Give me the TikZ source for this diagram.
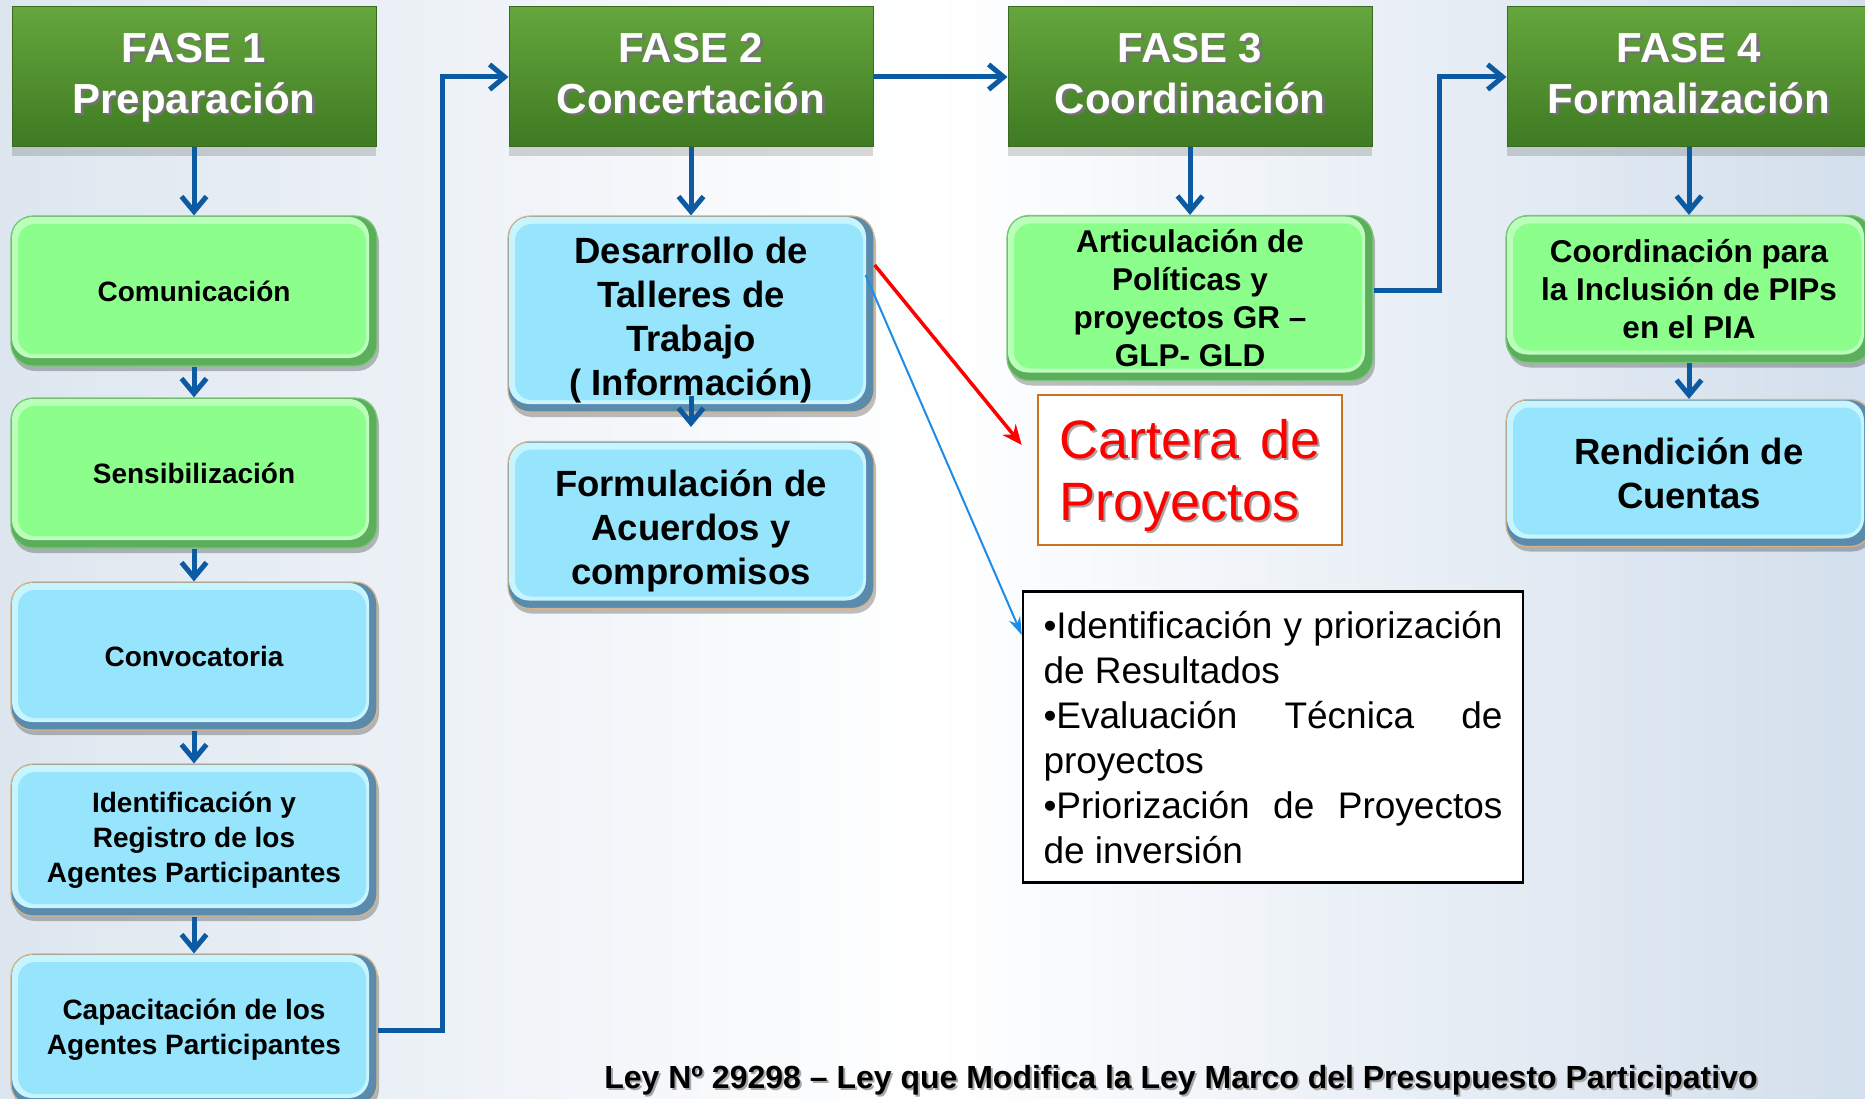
\documentclass[tikz,border=0pt]{standalone}
\usepackage{fontspec}
\setmainfont{Liberation Sans}
\usetikzlibrary{arrows.meta,shadows}
\definecolor{bgleft}{HTML}{DDE6EF}
\definecolor{bgright}{HTML}{D3DFEC}
\definecolor{hdrtop}{HTML}{65A63D}
\definecolor{hdrbot}{HTML}{3E7A22}
\definecolor{hdrdraw}{HTML}{3A6A20}
\definecolor{gmain}{HTML}{8CFE8C}
\definecolor{glight}{HTML}{BAFFBA}
\definecolor{gdark}{HTML}{5CAE5C}
\definecolor{gborder}{HTML}{78C878}
\definecolor{bmain}{HTML}{97E5FC}
\definecolor{blight}{HTML}{C6F4FF}
\definecolor{bdark}{HTML}{5A8BAC}
\definecolor{bborder}{HTML}{D7B487}
\definecolor{conncol}{HTML}{0B5AA2}
\definecolor{thinblue}{HTML}{1E8BE6}
\definecolor{cartorange}{HTML}{C8741E}
\newcommand\shadtxt[1]{\leavevmode\rlap{\kern2.5pt\raisebox{-2.5pt}{\color{black!55}\begin{tabular}{@{}c@{}}#1\end{tabular}}}\begin{tabular}{@{}c@{}}#1\end{tabular}}
\newcommand\shadl[1]{\leavevmode\rlap{\kern2pt\raisebox{-2pt}{\color{black!35}\begin{tabular}{@{}l@{}}#1\end{tabular}}}\begin{tabular}{@{}l@{}}#1\end{tabular}}
\newcommand\shadone[1]{\leavevmode\rlap{\kern2pt\raisebox{-2pt}{\color{black!35}#1}}#1}
\tikzset{
  hdr/.style={rectangle, top color=hdrtop, bottom color=hdrbot, draw=hdrdraw, line width=1pt,
    minimum width=364pt, minimum height=140pt, inner sep=0pt, align=center,
    font=\fontsize{42}{51}\selectfont\bfseries, text=white, text height=58pt, text depth=44pt,
    drop shadow={shadow xshift=0pt, shadow yshift=-9pt, opacity=0.15, fill=black}},
  bevelbase/.style={rounded corners=22pt, line width=1.2pt, minimum width=366pt, inner sep=0pt,
    align=center, text=black,
    drop shadow={shadow xshift=2pt, shadow yshift=-5pt, opacity=0.25, fill=black}},
  gbox/.style={bevelbase, fill=gdark, draw=gborder,
    path picture={
      \fill[glight, rounded corners=20pt] ([xshift=1pt,yshift=-1pt]path picture bounding box.north west) rectangle ([xshift=-8pt,yshift=8pt]path picture bounding box.south east);
      \fill[gmain, rounded corners=17pt] ([xshift=7pt,yshift=-8pt]path picture bounding box.north west) rectangle ([xshift=-11pt,yshift=12pt]path picture bounding box.south east);
    }},
  bbox/.style={bevelbase, fill=bdark, draw=bborder,
    path picture={
      \fill[blight, rounded corners=20pt] ([xshift=1pt,yshift=-1pt]path picture bounding box.north west) rectangle ([xshift=-8pt,yshift=8pt]path picture bounding box.south east);
      \fill[bmain, rounded corners=17pt] ([xshift=7pt,yshift=-8pt]path picture bounding box.north west) rectangle ([xshift=-11pt,yshift=12pt]path picture bounding box.south east);
    }},
  cfont/.style={font=\fontsize{28}{35}\selectfont\bfseries},
  bigfont/.style={font=\fontsize{36.5}{44}\selectfont\bfseries},
  midfont/.style={font=\fontsize{31.5}{38}\selectfont\bfseries},
  conn/.style={draw=conncol, line width=5pt, -{Straight Barb[length=15pt,width=25pt]}},
  redarrow/.style={draw=red, line width=3.5pt, -{Stealth[length=20pt,width=17pt]}},
  thinarrow/.style={draw=thinblue, line width=2pt, -{Stealth[length=18pt,width=12pt]}}
}
\begin{document}
\begin{tikzpicture}[x=1pt,y=-1pt]
\useasboundingbox (0,0) rectangle (1865,1099);
\shade[left color=bgleft, right color=bgright, middle color=white] (0,0) rectangle (1865,1099);

% headers
\node[hdr] (f1) at (194,77) {\shadtxt{FASE 1\\Preparación}};
\node[hdr] (f2) at (691,77) {\shadtxt{FASE 2\\Concertación}};
\node[hdr] (f3) at (1190,77) {\shadtxt{FASE 3\\Coordinación}};
\node[hdr] (f4) at (1689,77) {\shadtxt{FASE 4\\Formalización}};

% column 1
\node[gbox, cfont, minimum height=150pt] (com) at (194,291) {Comunicación};
\node[gbox, cfont, minimum height=150pt] (sen) at (194,473) {Sensibilización};
\node[bbox, cfont, minimum height=148pt] (conv) at (194,656) {Convocatoria};
\node[bbox, cfont, minimum height=152pt] (ident) at (194,840) {Identificación y\\Registro de los\\Agentes Participantes};
\node[bbox, cfont, minimum height=152pt] (cap) at (194,1030) {Capacitación de los\\Agentes Participantes};

% column 2
\node[bbox, bigfont, minimum height=196pt, text height=165pt, text depth=1.7pt] (des) at (691,314) {Desarrollo de\\Talleres de\\Trabajo\\( Información)};
\node[bbox, bigfont, minimum height=167pt, text height=121pt, text depth=2.7pt] (form) at (691,525) {Formulación de\\Acuerdos y\\compromisos};

% column 3
\node[gbox, midfont, minimum height=165pt] (art) at (1190,298) {Articulación de\\Políticas y\\proyectos GR –\\GLP- GLD};
\node[draw=cartorange, line width=2.5pt, fill=white, minimum width=304pt, minimum height=150pt,
      inner sep=0pt, text=red, font=\fontsize{54}{62}\selectfont, text height=75pt, text depth=49pt]
      (cart) at (1190,470) {\shadl{\makebox[262pt][s]{Cartera\hfill de}\\Proyectos}};
\node[draw=black, line width=2.5pt, fill=white, minimum width=500pt, minimum height=291pt,
      inner sep=0pt, font=\fontsize{37}{45}\selectfont, text height=146pt, text depth=124pt]
      (bul) at (1273,737) {\begin{tabular}{@{}l@{}}\makebox[459pt][s]{•Identificación\hfill y\hfill priorización}\\de Resultados\\\makebox[459pt][s]{•Evaluación\hfill Técnica\hfill de}\\proyectos\\\makebox[459pt][s]{•Priorización\hfill de\hfill Proyectos}\\de inversión\end{tabular}};

% column 4
\node[gbox, midfont, minimum height=147pt] (coord) at (1689,289) {Coordinación para\\la Inclusión de PIPs\\en el PIA};
\node[bbox, bigfont, minimum height=147pt] (rend) at (1689,473) {Rendición de\\Cuentas};

% connectors
\draw[conn] (f1) -- (com);
\draw[conn] (com) -- (sen);
\draw[conn] (sen) -- (conv);
\draw[conn] (conv) -- (ident);
\draw[conn] (ident) -- (cap);
\coordinate (b1) at (442,77);
\draw[conn] (cap.east) -| (b1) -- (f2.west);
\draw[conn] (f2) -- (f3);
\draw[conn] (f2) -- (des);
\draw[conn] ([yshift=17pt]des.south) -- ([yshift=14pt]form.north);
\draw[conn] (f3) -- (art);
\coordinate (b2) at (1439,77);
\draw[conn] ([yshift=8pt]art.east) -| (b2) -- (f4.west);
\draw[conn] (f4) -- (coord);
\draw[conn] (coord) -- (rend);
\draw[redarrow] ([yshift=49pt]des.east) -- ([xshift=-15pt,yshift=25pt]cart.west);
\draw[thinarrow] ([xshift=-9pt,yshift=39pt]des.east) -- ([yshift=102pt]bul.west);

% footer
\node[font=\fontsize{32}{38}\selectfont\bfseries, anchor=base, inner sep=0pt] (ley) at (1181,1088)
  {\shadone{Ley Nº 29298 – Ley que Modifica la Ley Marco del Presupuesto Participativo}};
\end{tikzpicture}
\end{document}
